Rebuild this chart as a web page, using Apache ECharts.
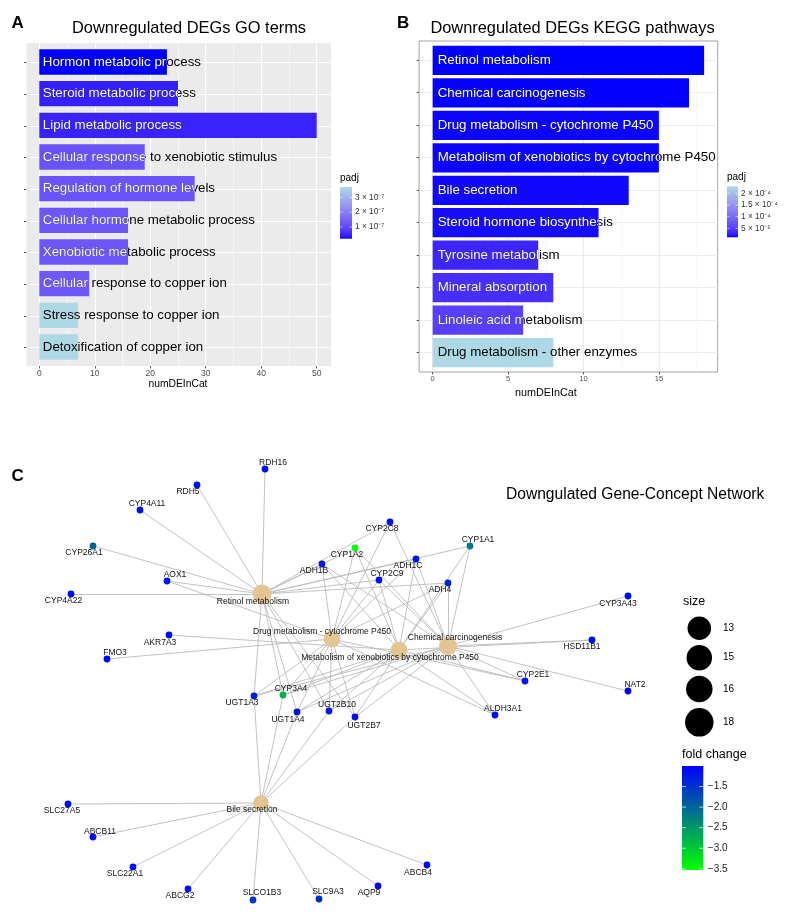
<!DOCTYPE html>
<html><head><meta charset="utf-8">
<script src="https://cdn.jsdelivr.net/npm/echarts@6/dist/echarts.min.js"></script>
<style>html,body{margin:0;padding:0;background:#fff}#c{width:788px;height:916px}</style>
</head><body><div id="c"></div>
<script>
// ---------------- DATA ----------------
const goTerms = ['Hormon metabolic process','Steroid metabolic process','Lipid metabolic process','Cellular response to xenobiotic stimulus','Regulation of hormone levels','Cellular hormone metabolic process','Xenobiotic metabolic process','Cellular response to copper ion','Stress response to copper ion','Detoxification of copper ion'];
const goCounts = [23, 25, 50, 19, 28, 16, 16, 9, 7, 7];
const goPadj = [0.21e-7, 0.45e-7, 0.48e-7, 1.2e-7, 1.22e-7, 1.26e-7, 1.26e-7, 1.3e-7, 3.7e-7, 3.7e-7];
const goPadjTicks = [1e-7, 2e-7, 3e-7];
const goPadjTickLabels = ['1 × 10⁻⁷', '2 × 10⁻⁷', '3 × 10⁻⁷'];
const goXTicks = [0, 10, 20, 30, 40, 50];

const keggTerms = ['Retinol metabolism','Chemical carcinogenesis','Drug metabolism - cytochrome P450','Metabolism of xenobiotics by cytochrome P450','Bile secretion','Steroid hormone biosynthesis','Tyrosine metabolism','Mineral absorption','Linoleic acid metabolism','Drug metabolism - other enzymes'];
const keggCounts = [18, 17, 15, 15, 13, 11, 7, 8, 6, 8];
const keggPadj = [1.15e-5, 1.2e-5, 1.3e-5, 1.3e-5, 1.4e-5, 1.5e-5, 3.1e-5, 3.8e-5, 5.3e-5, 2.3e-4];
const keggPadjTicks = [5e-5, 1e-4, 1.5e-4, 2e-4];
const keggPadjTickLabels = ['5 × 10⁻⁵', '1 × 10⁻⁴', '1.5 × 10⁻⁴', '2 × 10⁻⁴'];

// network: pathway hubs (layout coordinates)
const hubNames = ['Retinol metabolism','Drug metabolism - cytochrome P450','Metabolism of xenobiotics by cytochrome P450','Chemical carcinogenesis','Bile secretion'];
const hubX = [262, 332, 399, 448, 261];
const hubY = [594, 639, 650, 646, 803];
const hubLabelNudge = [[-9,8],[-10,-7],[-9,8],[7,-8],[-9,7]];

const genes = ['RDH16','RDH5','CYP4A11','CYP26A1','AOX1','CYP4A22','AKR7A3','FMO3','CYP2C8','CYP1A2','ADH1B','ADH1C','CYP2C9','CYP1A1','ADH4','UGT1A3','CYP3A4','UGT1A4','UGT2B10','UGT2B7','ALDH3A1','CYP3A43','HSD11B1','CYP2E1','NAT2','SLC27A5','ABCB11','SLC22A1','ABCG2','SLCO1B3','SLC9A3','AQP9','ABCB4'];
const geneFC = [-1.1,-1.2,-1.15,-2.0,-1.2,-1.15,-1.1,-1.05,-1.1,-3.53,-1.3,-1.2,-1.15,-2.2,-1.35,-1.3,-2.8,-1.15,-1.2,-1.15,-1.1,-1.1,-1.1,-1.15,-1.0,-1.1,-1.05,-1.1,-1.2,-1.55,-1.4,-1.1,-1.05];
const geneX = [265,197,140,93,167,71,169,107,390,355,322,416,379,470,448,254,283,297,329,355,495,628,592,525,628,68,93,133,188,253,319,378,427];
const geneY = [469,485,510,546,581,594,635,659,522,548,564,559,580,546,583,696,695,712,711,717,715,596,640,681,691,804,837,867,889,900,899,886,865];
const geneLabelNudge = [[8,-6.5],[-9,7],[7,-6],[-9,7],[8,-6],[-7.5,6.5],[-9,7.5],[8,-6],[-8,7],[-8,6.5],[-8,7],[-8,6.5],[8,-6],[8,-6.5],[-8,7],[-12,7],[8,-6.5],[-9,7.5],[8,-6.5],[9,8.5],[8,-6.5],[-10,7.5],[-10,7],[8,-6.5],[7,-6],[-6,6.5],[7,-5.5],[-8,7],[-8,7],[9,-7],[9,-7],[-9,7],[-9,7.5]];

const retinolGenes = ['RDH16','RDH5','CYP4A11','CYP26A1','AOX1','CYP4A22','ADH1B','ADH1C','ADH4','CYP1A2','CYP1A1','CYP2C8','CYP2C9','CYP3A4','UGT1A3','UGT1A4','UGT2B10','UGT2B7'];
const drugP450Genes = ['FMO3','AOX1','CYP1A2','CYP2C8','CYP2C9','CYP3A4','CYP2E1','ADH1B','ADH1C','ADH4','UGT1A3','UGT1A4','UGT2B10','UGT2B7','ALDH3A1'];
const xenoGenes = ['AKR7A3','CYP1A2','CYP1A1','CYP2C9','CYP3A4','CYP2E1','ALDH3A1','ADH1B','ADH1C','ADH4','UGT1A3','UGT1A4','UGT2B10','UGT2B7','HSD11B1'];
const chemGenes = ['CYP1A2','CYP1A1','CYP2C8','CYP2C9','CYP3A4','CYP2E1','CYP3A43','HSD11B1','NAT2','ALDH3A1','ADH1B','ADH1C','ADH4','UGT1A3','UGT1A4','UGT2B10','UGT2B7'];
const bileGenes = ['SLC27A5','ABCB11','SLC22A1','ABCG2','SLCO1B3','SLC9A3','AQP9','ABCB4','CYP3A4','UGT1A3','UGT1A4','UGT2B10','UGT2B7'];
const hubGeneSets = [retinolGenes, drugP450Genes, xenoGenes, chemGenes, bileGenes];
const hubSizes = [18, 15, 15, 17, 13];
const sizeLegendValues = [13, 15, 16, 18];
const fcTicks = [-1.5, -2.0, -2.5, -3.0, -3.5];
const fcTickLabels = ['−1.5', '−2.0', '−2.5', '−3.0', '−3.5'];

// ---------------- COLOR HELPERS ----------------
const FONT = 'Liberation Sans, Arial, Helvetica, sans-serif';
function hexToRgb(h){return [parseInt(h.slice(1,3),16),parseInt(h.slice(3,5),16),parseInt(h.slice(5,7),16)];}
function s2l(c){c/=255;return c<=0.04045?c/12.92:Math.pow((c+0.055)/1.055,2.4);}
function l2s(c){c=c<=0.0031308?12.92*c:1.055*Math.pow(Math.max(c,0),1/2.4)-0.055;return Math.round(Math.max(0,Math.min(1,c))*255);}
function rgbToLab(rgb){const [r,g,b]=rgb.map(s2l);const X=(0.4124*r+0.3576*g+0.1805*b)/0.95047,Y=0.2126*r+0.7152*g+0.0722*b,Z=(0.0193*r+0.1192*g+0.9505*b)/1.08883;const f=t=>t>0.008856?Math.cbrt(t):(7.787*t+16/116);const fx=f(X),fy=f(Y),fz=f(Z);return [116*fy-16,500*(fx-fy),200*(fy-fz)];}
function labToRgb([L,a,b]){const fy=(L+16)/116,fx=fy+a/500,fz=fy-b/200;const fi=t=>t*t*t>0.008856?t*t*t:(t-16/116)/7.787;const X=fi(fx)*0.95047,Y=fi(fy),Z=fi(fz)*1.08883;return [l2s(3.2406*X-1.5372*Y-0.4986*Z),l2s(-0.9689*X+1.8758*Y+0.0415*Z),l2s(0.0557*X-0.2040*Y+1.0570*Z)];}
function rgbStr(c){return 'rgb('+c[0]+','+c[1]+','+c[2]+')';}
const labLow = rgbToLab(hexToRgb('#0000FF')), labHigh = rgbToLab(hexToRgb('#ADD8E6'));
function padjColorT(t){return rgbStr(labToRgb(labLow.map((v,k)=>v+(labHigh[k]-v)*t)));}
function padjScale(arr){const mn=Math.min(...arr),mx=Math.max(...arr);return {mn,mx,t:v=>(v-mn)/(mx-mn)};}
const goScale = padjScale(goPadj), keggScale = padjScale(keggPadj);
const fcMin = Math.min(...geneFC), fcMax = Math.max(...geneFC);
function fcColor(v){const t=(v-fcMin)/(fcMax-fcMin);return rgbStr([0,Math.round(255*(1-t)),Math.round(255*t)]);}

// ---------------- BAR SERIES ----------------
function barSeries(xIdx, terms, counts, padj, scale, widthFrac, pad, fontSize){
  return {
    type:'custom', xAxisIndex:xIdx, yAxisIndex:xIdx, silent:true,
    data: counts.map((v,i)=>[v, i+1, i]),
    renderItem:(params, api)=>{
      const i = api.value(2), v = api.value(0);
      const p0 = api.coord([0, i+1]), p1 = api.coord([v, i+1]);
      const h = Math.abs(api.coord([0, 1+widthFrac/2])[1]-api.coord([0, 1-widthFrac/2])[1]);
      const rect = {x:p0[0], y:p0[1]-h/2, width:p1[0]-p0[0], height:h};
      const t = scale.t(padj[i]);
      const font = fontSize+'px '+FONT;
      const children = [
        {type:'rect', shape:rect, style:{fill:padjColorT(t)}},
        {type:'text', style:{text:terms[i], x:p0[0]+pad, y:p0[1], fill:'#000', font, align:'left', verticalAlign:'middle'}}
      ];
      if (t < 0.8) children.push({type:'text', style:{text:terms[i], x:p0[0]+pad, y:p0[1], fill:'#fff', font, align:'left', verticalAlign:'middle'}, clipPath:{type:'rect', shape:rect}});
      return {type:'group', children};
    }
  };
}

// ---------------- NETWORK ----------------
const nodes = [];
hubNames.forEach((n,i)=>nodes.push({name:n, value:[hubX[i],hubY[i]], symbolSize:15.3+(hubSizes[i]-13)*0.7, itemStyle:{color:'#E5C494'}, label:{offset:hubLabelNudge[i]}}));
genes.forEach((g,i)=>nodes.push({name:g, value:[geneX[i],geneY[i]], symbolSize:6.8, itemStyle:{color:fcColor(geneFC[i])}, label:{offset:geneLabelNudge[i]}}));
const links = [];
hubNames.forEach((h,i)=>hubGeneSets[i].forEach(g=>links.push({source:h, target:g})));

// ---------------- LEGENDS (graphic) ----------------
const graphics = [];
function txt(text, x, y, size, opts){graphics.push({type:'text', silent:true, style:Object.assign({text, x, y, font:size+'px '+FONT, fill:'#000', align:'left', verticalAlign:'middle'}, opts||{})});}
txt('A', 11.5, 23, 17, {font:'bold 17px '+FONT});
txt('B', 397, 23, 17, {font:'bold 17px '+FONT});
txt('C', 11.5, 476.5, 17, {font:'bold 17px '+FONT});
txt('Downregulated DEGs GO terms', 189, 28.5, 16.4, {align:'center'});
txt('Downregulated DEGs KEGG pathways', 572.5, 28.5, 16.4, {align:'center'});
txt('Downgulated Gene-Concept Network', 506, 495, 15.6);

function padjLegend(x, yTop, w, h, scale, ticks, labels){
  const stops = [];
  for (let k=0;k<=20;k++) stops.push({offset:k/20, color:padjColorT(1-k/20)});
  txt('padj', x, yTop-9, 10);
  graphics.push({type:'rect', silent:true, shape:{x, y:yTop, width:w, height:h}, style:{fill:{type:'linear', x:0, y:0, x2:0, y2:1, colorStops:stops}}});
  ticks.forEach((v,k)=>{
    const y = yTop + h - scale.t(v)*h;
    graphics.push({type:'line', silent:true, shape:{x1:x, y1:y, x2:x+2.4, y2:y}, style:{stroke:'#fff', lineWidth:0.6}});
    graphics.push({type:'line', silent:true, shape:{x1:x+w-2.4, y1:y, x2:x+w, y2:y}, style:{stroke:'#fff', lineWidth:0.6}});
    txt(labels[k], x+w+3, y, 8.3, {fill:'#333'});
  });
}
padjLegend(340, 187, 12, 51.7, goScale, goPadjTicks, goPadjTickLabels);
padjLegend(727, 186.3, 11, 51, keggScale, keggPadjTicks, keggPadjTickLabels);

// size legend
txt('size', 683, 601.7, 12.5);
const sizeLegendY = [628.3, 657.7, 689, 722.3];
sizeLegendValues.forEach((v,k)=>{
  const d = 23.5 + (v-13)*1;
  graphics.push({type:'circle', silent:true, shape:{cx:699.3, cy:sizeLegendY[k], r:d/2}, style:{fill:'#000'}});
  txt(String(v), 723, sizeLegendY[k], 10);
});
// fold change legend
txt('fold change', 682, 754.3, 12.5);
(function(){
  const x=682, yTop=766, w=21.3, h=104;
  graphics.push({type:'rect', silent:true, shape:{x, y:yTop, width:w, height:h}, style:{fill:{type:'linear', x:0, y:0, x2:0, y2:1, colorStops:[{offset:0,color:fcColor(fcMax)},{offset:1,color:fcColor(fcMin)}]}}});
  fcTicks.forEach((v,k)=>{
    const y = yTop + h - (v-fcMin)/(fcMax-fcMin)*h;
    graphics.push({type:'line', silent:true, shape:{x1:x, y1:y, x2:x+4, y2:y}, style:{stroke:'#fff', lineWidth:0.7}});
    graphics.push({type:'line', silent:true, shape:{x1:x+w-4, y1:y, x2:x+w, y2:y}, style:{stroke:'#fff', lineWidth:0.7}});
    txt(fcTickLabels[k], x+w+4.5, y, 10, {fill:'#1a1a1a'});
  });
})();

// ---------------- AXES / GRIDS ----------------
const hid = {show:false};
function hiddenAxis(gi, extra){return Object.assign({gridIndex:gi, type:'value', show:false, splitLine:hid, axisLine:hid, axisTick:hid, axisLabel:hid}, extra||{});}
const grids = [
  {left:26.5, top:43, width:304.5, height:323, show:true, backgroundColor:'#EBEBEB', borderWidth:0}, // 0 A bg
  {left:39.3, top:43, width:277.4, height:323},                                                   // 1 A major + series
  {left:39.3+5*5.548, top:43, width:40*5.548, height:323},                                        // 2 A minor
  {left:26.5, top:62.7, width:304.5, height:284.8},                                               // 3 A categories
  {left:419.1, top:41, width:298.6, height:331, show:true, backgroundColor:'#fff', borderColor:'#8a8a8a', borderWidth:0.8}, // 4 B bg + series
  {left:432.7, top:41, width:15*15.08, height:331},                                               // 5 B major
  {left:432.7+2.5*15.08, top:41, width:15*15.08, height:331},                                     // 6 B minor
  {left:419.1, top:60.3, width:298.6, height:291.9},                                              // 7 B categories
  {left:0, top:0, width:788, height:916}                                                          // 8 C network
];
const xAxes = [
  hiddenAxis(0,{min:0,max:1}),
  {gridIndex:1, type:'value', min:0, max:50, interval:10, axisLine:hid, axisTick:{show:true, length:2.5, lineStyle:{color:'#333', width:0.8}}, axisLabel:{fontSize:8.5, color:'#4d4d4d', margin:3, fontFamily:FONT}, splitLine:{show:true, lineStyle:{color:'#fff', width:1.1}}, name:'numDEInCat', nameLocation:'middle', nameGap:12.5, nameTextStyle:{fontSize:10.3, color:'#000', fontFamily:FONT}},
  hiddenAxis(2,{min:5,max:45,interval:10, show:true, splitLine:{show:true, lineStyle:{color:'#fff', width:0.55}}}),
  hiddenAxis(3,{min:0,max:1}),
  hiddenAxis(4,{min:-0.9,max:18.9}),
  {gridIndex:5, type:'value', min:0, max:15, interval:5, axisLine:hid, axisTick:{show:true, length:2.5, lineStyle:{color:'#333', width:0.8}}, axisLabel:{fontSize:7.5, color:'#4d4d4d', margin:3, fontFamily:FONT}, splitLine:{show:true, lineStyle:{color:'#EBEBEB', width:1.1}}, name:'numDEInCat', nameLocation:'middle', nameGap:16, nameTextStyle:{fontSize:10.8, color:'#000', fontFamily:FONT}},
  hiddenAxis(6,{min:2.5,max:17.5,interval:5, show:true, splitLine:{show:true, lineStyle:{color:'#F3F3F3', width:0.6}}}),
  hiddenAxis(7,{min:0,max:1}),
  hiddenAxis(8,{min:0,max:788})
];
const catY = (gi, terms, color)=>({gridIndex:gi, type:'category', data:terms, inverse:true, boundaryGap:false, axisLine:hid, axisLabel:hid, axisTick:{show:true, length:2.5, lineStyle:{color:'#333', width:0.8}}, splitLine:{show:true, lineStyle:{color, width:1.1}}});
const yAxes = [
  hiddenAxis(0,{min:0,max:1}),
  hiddenAxis(1,{min:0.4,max:10.6,inverse:true}),
  hiddenAxis(2,{min:0,max:1}),
  catY(3, goTerms, '#fff'),
  hiddenAxis(4,{min:0.4,max:10.6,inverse:true}),
  hiddenAxis(5,{min:0,max:1}),
  hiddenAxis(6,{min:0,max:1}),
  catY(7, keggTerms, '#EBEBEB'),
  hiddenAxis(8,{min:0,max:916,inverse:true})
];

const chart = echarts.init(document.getElementById('c'), null, {renderer:'canvas'});
chart.setOption({
  animation:false,
  textStyle:{fontFamily:FONT},
  grid:grids, xAxis:xAxes, yAxis:yAxes,
  series:[
    barSeries(1, goTerms, goCounts, goPadj, goScale, 0.8, 3.5, 13.3),
    barSeries(4, keggTerms, keggCounts, keggPadj, keggScale, 0.9, 5, 13.3),
    {
      type:'graph', coordinateSystem:'cartesian2d', xAxisIndex:8, yAxisIndex:8, silent:true,
      symbol:'circle', data:nodes, links,
      lineStyle:{color:'#BBBBBB', width:0.9, opacity:1, curveness:0},
      label:{show:true, position:'inside', fontSize:8.5, color:'#111', fontFamily:FONT, formatter:'{b}'},
      emphasis:{disabled:true}
    }
  ],
  graphic:graphics
});
</script></body></html>
